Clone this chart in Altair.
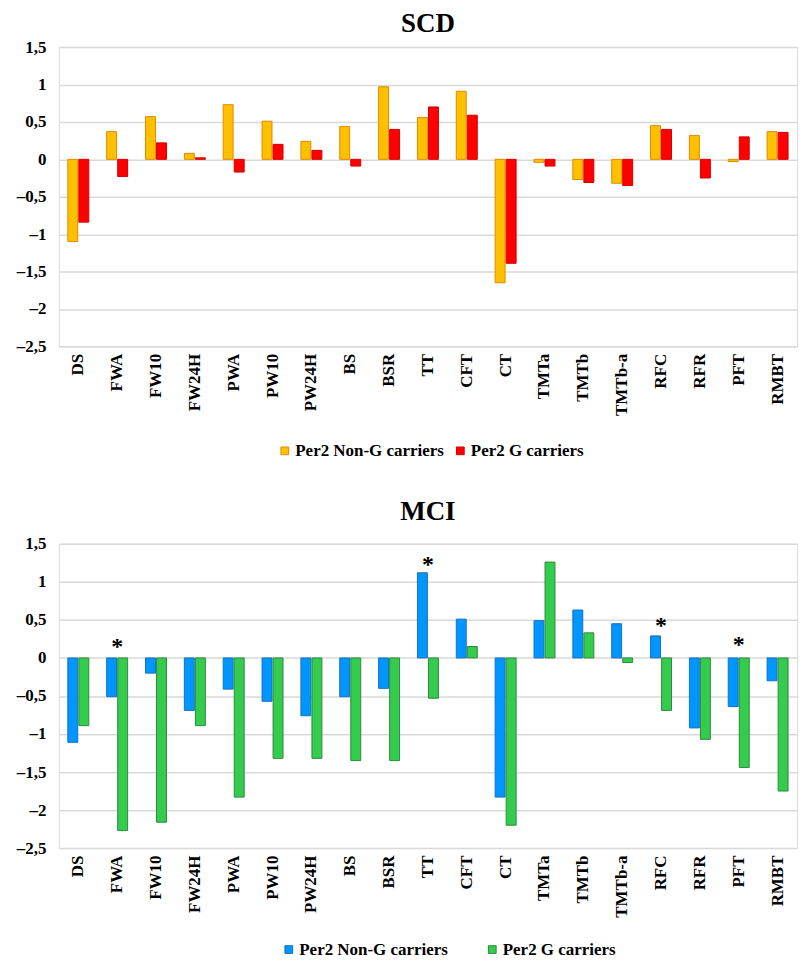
import altair as alt
import pandas as pd

FONT = "Liberation Serif, Times New Roman, serif"

categories = ["DS", "FWA", "FW10", "FW24H", "PWA", "PW10", "PW24H", "BS", "BSR", "TT",
              "CFT", "CT", "TMTa", "TMTb", "TMTb-a", "RFC", "RFR", "PFT", "RMBT"]
series_names = ["Per2 Non-G carriers", "Per2 G carriers"]

scd_non_g = [-1.10, 0.37, 0.57, 0.08, 0.73, 0.51, 0.24, 0.44, 0.97, 0.56,
             0.91, -1.65, -0.04, -0.27, -0.32, 0.45, 0.32, -0.03, 0.37]
scd_g = [-0.84, -0.23, 0.22, 0.02, -0.17, 0.20, 0.12, -0.09, 0.40, 0.70,
         0.59, -1.39, -0.09, -0.31, -0.35, 0.40, -0.25, 0.30, 0.36]

mci_non_g = [-1.11, -0.51, -0.20, -0.69, -0.41, -0.57, -0.76, -0.51, -0.40, 1.12,
             0.51, -1.83, 0.49, 0.63, 0.45, 0.29, -0.92, -0.64, -0.30]
mci_g = [-0.89, -2.27, -2.16, -0.89, -1.83, -1.32, -1.32, -1.35, -1.35, -0.53,
         0.15, -2.20, 1.26, 0.33, -0.06, -0.69, -1.07, -1.44, -1.75]

mci_star_categories = ["FWA", "TT", "RFC", "PFT"]
mci_star_values = [0.17, 1.25, 0.45, 0.20]

y_ticks = [-2.5, -2, -1.5, -1, -0.5, 0, 0.5, 1, 1.5]

scd_fills = ["#FFC000", "#FF0000"]
scd_strokes = ["#E08A00", "#D40000"]
mci_fills = ["#0096FF", "#33CC4C"]
mci_strokes = ["#1A6FC0", "#2E8A3E"]


def panel(title, a, b, fills, strokes, height, col_pad, legend_x, legend_y, title_offset,
          star_cats=None, star_vals=None):
    df = pd.DataFrame({
        "cat": categories * 2,
        "series": [series_names[0]] * len(categories) + [series_names[1]] * len(categories),
        "value": a + b,
    })
    x_scale = alt.Scale(domain=categories, paddingInner=0.46, paddingOuter=0.23)
    x_axis = alt.Axis(title=None, labelAngle=-90, labelFont=FONT, labelFontWeight="bold",
                      labelFontSize=17, labelColor="#000", ticks=False, domain=False,
                      labelPadding=7, grid=False, labelOverlap=False)
    y_scale = alt.Scale(domain=[-2.5, 1.5], nice=False, zero=True)
    y_axis = alt.Axis(title=None, values=y_ticks, grid=True, gridColor="#d9d9d9",
                      gridWidth=1.5, domain=False, ticks=False, labelFont=FONT,
                      labelFontWeight="bold", labelFontSize=17, labelColor="#000",
                      labelPadding=13, minExtent=50, maxExtent=50, labelOverlap=False,
                      labelExpr="(datum.value < 0 ? '\u2013' : '') + replace(toString(abs(datum.value)), '.', ',')")
    leg = alt.Legend(title=None, orient="none", legendX=legend_x, legendY=legend_y,
                     direction="horizontal", symbolType="square", symbolSize=60,
                     symbolStrokeWidth=1, labelFont=FONT, labelFontSize=17,
                     labelFontWeight="bold", labelColor="#000", labelOffset=2,
                     columnPadding=col_pad, padding=0)
    bars = alt.Chart(df).mark_bar(strokeWidth=1).encode(
        x=alt.X("cat:N", scale=x_scale, axis=x_axis),
        xOffset=alt.XOffset("series:N", sort=series_names, scale=alt.Scale(paddingInner=0.1)),
        y=alt.Y("value:Q", scale=y_scale, axis=y_axis),
        fill=alt.Fill("series:N", sort=series_names,
                      scale=alt.Scale(domain=series_names, range=fills), legend=leg),
        stroke=alt.Stroke("series:N", sort=series_names,
                          scale=alt.Scale(domain=series_names, range=strokes), legend=leg),
    )
    layers = [bars]
    if star_cats:
        sdf = pd.DataFrame({"cat": star_cats, "value": star_vals})
        stars = alt.Chart(sdf).mark_text(text="*", font=FONT, fontSize=24, fontWeight="bold",
                                         color="#000", baseline="middle", dy=2).encode(
            x=alt.X("cat:N", scale=x_scale, axis=x_axis),
            y=alt.Y("value:Q", scale=y_scale, axis=y_axis),
        )
        layers.append(stars)
    return alt.layer(*layers).properties(
        width=740, height=height,
        title=alt.TitleParams(title, font=FONT, fontSize=27, fontWeight="bold",
                              color="#000", anchor="middle", offset=title_offset),
    )


top = panel("SCD", scd_non_g, scd_g, scd_fills, scd_strokes, 300, 7, 218, 396, 0)
bottom = panel("MCI", mci_non_g, mci_g, mci_fills, mci_strokes, 305, 35, 222, 398, 9,
               mci_star_categories, mci_star_values)

chart = alt.vconcat(top, bottom, spacing=37).resolve_scale(
    fill="independent", stroke="independent"
).properties(padding=0).configure_view(stroke=None).configure(background="#ffffff")

chart.save("out.html", embed_options={"renderer": "svg", "actions": False})
